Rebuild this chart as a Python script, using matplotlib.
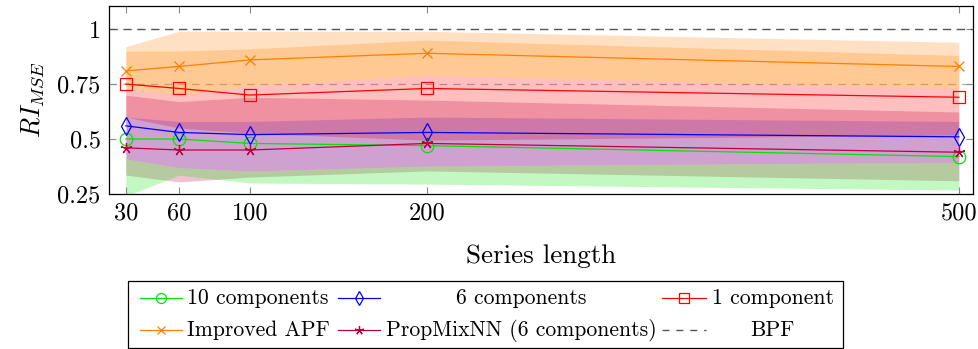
import matplotlib
matplotlib.use("Agg")
import matplotlib.pyplot as plt
from matplotlib.lines import Line2D
from matplotlib.patches import Rectangle

plt.rcParams['font.family'] = 'serif'
plt.rcParams['font.serif'] = ['cmr10', 'DejaVu Serif']
plt.rcParams['mathtext.fontset'] = 'cm'
plt.rcParams['axes.unicode_minus'] = False

# series lengths
lengths = [30, 60, 100, 200, 500]

# mean RI_MSE per method
comp10 = [0.50, 0.50, 0.48, 0.47, 0.42]
comp6 = [0.56, 0.53, 0.52, 0.53, 0.51]
comp1 = [0.75, 0.73, 0.70, 0.73, 0.69]
apf = [0.81, 0.83, 0.86, 0.89, 0.83]
propmix = [0.46, 0.45, 0.45, 0.48, 0.44]
bpf = 1.0

# shaded bands (lower / upper)
comp10_lo = [0.24, 0.336, 0.30, 0.295, 0.268]
comp10_hi = [0.41, 0.37, 0.355, 0.377, 0.395]
comp6_lo = [0.41, 0.37, 0.355, 0.377, 0.395]
comp6_hi = [0.60, 0.58, 0.58, 0.60, 0.58]
comp1_lo = [0.60, 0.55, 0.527, 0.495, 0.518]
comp1_hi = [0.73, 0.70, 0.74, 0.79, 0.73]
apf_lo = [0.73, 0.70, 0.74, 0.79, 0.73]
apf_hi = [0.92, 0.99, 0.99, 0.99, 0.94]
apf_inner_hi = [0.90, 0.90, 0.91, 0.95, 0.88]
propmix_lo = [0.336, 0.305, 0.327, 0.355, 0.31]
propmix_hi = [0.70, 0.67, 0.69, 0.677, 0.623]

xticks = [30, 60, 100, 200, 500]
xticklabels = ['30', '60', '100', '200', '500']
yticks = [0.25, 0.5, 0.75, 1.0]
yticklabels = ['0.25', '0.5', '0.75', '1']

W, H = 979, 349
fig = plt.figure(figsize=(W / 100, H / 100), dpi=100)
ax = fig.add_axes([109 / W, 1 - 194 / H, (973 - 109) / W, (194 - 6) / H])

GREEN = '#00e600'
BLUE = '#0000ff'
RED = '#ff0000'
ORANGE = '#ff8000'
PURPLE = '#bf0040'

ax.axhline(0.75, color='#b0b0b0', lw=0.9, ls=(0, (6, 5)), zorder=0)

bands = [
    (apf_lo, apf_hi, ORANGE, 0.24),
    (apf_lo, apf_inner_hi, ORANGE, 0.24),
    (comp1_lo, comp1_hi, RED, 0.25),
    (comp6_lo, comp6_hi, BLUE, 0.17),
    (propmix_lo, propmix_hi, PURPLE, 0.24),
    (comp10_lo, comp10_hi, GREEN, 0.24),
]
for lo, hi, c, a in bands:
    ax.fill_between(lengths, lo, hi, color=c, alpha=a, lw=0, zorder=1)

series = [
    ('10 components', comp10, GREEN, 'o', 9),
    ('6 components', comp6, BLUE, 'd', 9),
    ('1 component', comp1, RED, 's', 9),
    ('Improved APF', apf, ORANGE, 'x', 7),
    ('PropMixNN (6 components)', propmix, PURPLE, (5, 2, 0), 8),
]
handles = []
for name, vals, c, m, ms in series:
    ax.plot(lengths, vals, color=c, lw=0.9, marker=m, ms=ms,
            mfc='none', mec=c, mew=0.9, zorder=3)
    handles.append((name, c, m, ms))

ax.axhline(bpf, color='#555555', lw=1.0, ls=(0, (6, 4)), zorder=2)

ax.set_xlim(20.5, 508)
ax.set_ylim(0.25, 1.105)
ax.set_xticks(xticks)
ax.set_xticklabels(xticklabels, fontsize=17.5)
ax.set_yticks(yticks)
ax.set_yticklabels(yticklabels, fontsize=17.5)
ax.tick_params(direction='in', length=5, width=0.8, color='#888888',
               top=True, right=True, pad=6)
for s in ax.spines.values():
    s.set_linewidth(0.9)
ax.set_xlabel('Series length', fontsize=19.5, labelpad=14)
ax.set_ylabel('$RI_{MSE}$', fontsize=19, labelpad=8)

# legend drawn by hand so text can be centred in its column like pgfplots
def fx(x):
    return x / W

def fy(y):
    return 1 - y / H

fig.add_artist(Rectangle((fx(128), fy(348)), fx(843) - fx(128), fy(281) - fy(348),
                         transform=fig.transFigure, fill=False, lw=0.9, ec='black'))

cols = [(140, 182, 187, None), (338, 380, 386, 656), (662, 706, 712, 833)]
rows = [298, 330]
entries = handles + [('BPF', '#555555', None, 0)]
for i, (name, c, m, ms) in enumerate(entries):
    r, k = divmod(i, 3)
    x0, x1, tx, tx_end = cols[k]
    y = fy(rows[r])
    if m is None:
        fig.add_artist(Line2D([fx(x0), fx(x1)], [y, y], transform=fig.transFigure,
                              color=c, lw=1.0, ls=(0, (5, 5))))
    else:
        fig.add_artist(Line2D([fx(x0), fx(x1)], [y, y], transform=fig.transFigure,
                              color=c, lw=0.9))
        fig.add_artist(Line2D([fx((x0 + x1) / 2)], [y], transform=fig.transFigure,
                              color=c, marker=m, ms=ms * 0.8, mfc='none', mec=c, mew=0.9))
    if name in ('6 components', 'BPF'):
        fig.text(fx((tx + tx_end) / 2), y, name, ha='center', va='center', fontsize=15.6)
    else:
        fig.text(fx(tx), y, name, ha='left', va='center', fontsize=15.6)

fig.savefig('out.png', dpi=100)
